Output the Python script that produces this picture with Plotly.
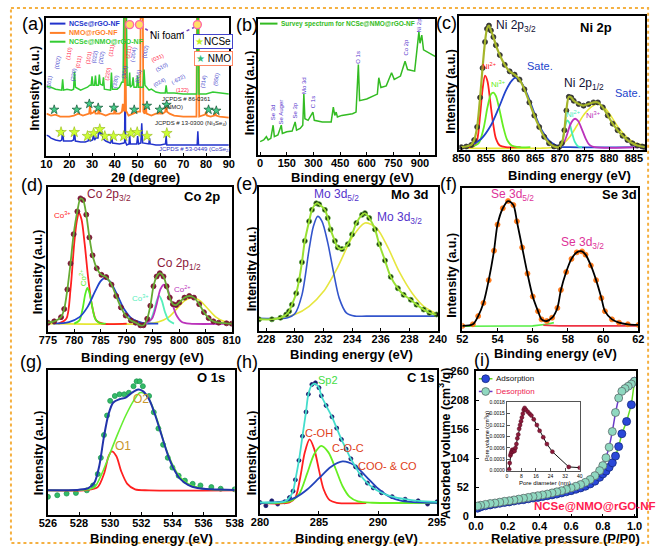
import plotly.graph_objects as go

W, H = 661, 554
FONT = "Liberation Sans, Arial, sans-serif"

# ------------------------------------------------------------------ data
# (a) XRD patterns (2theta, relative intensity)
xrd_blue_x = [10, 11, 12, 14, 16, 16.7, 17.1, 17.5, 19, 21, 21.9, 22.3, 22.7, 25, 27, 28.3, 28.6, 29.2, 30.2, 30.6,
              31.1, 31.6, 32.6, 33.1, 33.6, 34.1, 35, 36, 38, 38.3, 38.6, 39, 42, 44, 44.3, 44.5, 44.7, 45.2, 46.2,
              46.5, 46.8, 48, 49.6, 50, 50.4, 51.4, 51.8, 52.2, 54, 54.9, 55.2, 55.5, 58, 60, 62.2, 62.5, 62.8, 66,
              70, 74, 76.1, 76.4, 76.7, 80, 85, 90]
xrd_blue_y = [21, 20, 18, 16, 15, 16, 26, 15, 15, 15, 16, 25, 15, 14, 14, 15, 19, 15, 16, 21, 16, 18, 18, 29, 22,
              25, 17, 15, 13, 14, 21, 13, 12, 13, 14, 141, 14, 11, 12, 21, 12, 12, 12, 20, 12, 13, 33, 13, 12, 12,
              18, 12, 11, 11, 12, 20, 11, 11, 11, 11, 11, 25, 11, 11, 11, 11]
xrd_orange_x = [10, 12, 14, 16, 18, 20, 22, 24, 26, 28, 28.7, 29.1, 29.5, 30.5, 31, 31.5, 32.6, 33, 33.4, 34, 36,
                38, 39.6, 40, 40.4, 42, 43.1, 43.5, 43.9, 44.3, 44.6, 44.9, 46, 48, 50, 51.1, 51.3, 52.3, 52.5, 53.1,
                53.5, 53.9, 56, 58, 59.1, 59.5, 59.9, 61, 62.1, 62.5, 62.9, 64, 66, 70, 74, 75.8, 76.0, 76.8, 77.0,
                79.6, 80, 80.4, 82, 83.6, 84, 84.4, 86, 90]
xrd_orange_y = [43, 41, 42, 40, 40, 40, 41, 43, 41, 43, 43, 51, 43, 44, 46, 43, 43, 48, 43, 43, 41, 43, 43, 50, 43,
                43, 45, 53, 46, 46, 141, 46, 41, 43, 45, 45, 141, 141, 45, 43, 53, 43, 41, 43, 43, 48, 43, 43, 45,
                53, 45, 43, 41, 40, 40, 40, 141, 141, 40, 42, 45, 41, 40, 41, 45, 41, 40, 39]
xrd_green_x = [10, 12, 14, 16, 16.7, 17.1, 17.5, 19, 21, 21.9, 22.3, 22.7, 25, 26, 28, 29, 29.6, 30, 30.4, 31.1,
               31.5, 31.9, 32.8, 33.2, 33.6, 34.6, 35, 35.4, 37, 38.1, 38.5, 38.9, 41, 42, 43, 43.6, 43.9, 45.1,
               45.4, 46.2, 46.5, 46.8, 47.6, 48, 48.4, 49.6, 50, 50.4, 52.4, 52.8, 53.2, 55, 56, 58, 60, 62.1, 62.5,
               62.9, 66, 70, 74, 75.9, 76.2, 76.6, 76.9, 80, 83, 86, 90]
xrd_green_y = [71, 70, 68, 67, 67, 78, 67, 68, 67, 68, 86, 70, 67, 68, 70, 72, 72, 81, 72, 72, 82, 72, 72, 83, 73,
               72, 80, 68, 67, 67, 85, 68, 68, 70, 75, 75, 141, 141, 72, 72, 85, 70, 72, 80, 70, 70, 82, 70, 70, 88,
               72, 67, 68, 65, 64, 64, 72, 64, 64, 63, 63, 63, 141, 141, 63, 63, 65, 64, 63]
xrd_names = ["NCSe@rGO-NF", "NMO@rGO-NF", "NCSe@NMO@rGO-NF"]
nmo_star_x = [13.4, 23.3, 28.8, 32.7, 39.6, 48.5, 54.1, 59.7, 62.7, 81.1, 84.5]
nmo_star_y = [47, 47, 53, 49, 49, 47, 51, 47, 52, 47, 46]
ncse_star_x = [16.4, 22.2, 28.0, 30.7, 33.4, 35.6, 39.4, 43.9, 47.0, 49.8, 54.1, 62.8]
ncse_star_y = [24, 24, 20, 23, 27, 20, 20, 20, 23, 24, 20, 23]
nifoam_x = [46.5, 50.8, 76.2]
nifoam_y = [134, 134, 134]
hkl_text = ["(101)", "(002)", "(110)", "(220)", "(011)", "(101)", "(022)", "(202)", "(220)", "(111)", "(330)",
            "(304)", "(211)", "(-204)", "(006)", "(002)", "(031)", "(510)", "(024)", "(-622)", "(122)", "(314)",
            "(550)"]
hkl_x = [11.3, 14.7, 19.8, 22.0, 24.0, 28.4, 31.0, 34.0, 37.0, 38.5, 40.4, 44.0, 46.0, 48.0, 50.3, 53.3, 58.5,
         60.5, 59.7, 68.0, 69.5, 79.0, 84.6]
hkl_y = [75, 95, 105, 83, 96, 100, 101, 100, 83, 108, 76, 86, 106, 103, 81, 106, 100, 91, 75, 78, 67, 76, 78]
hkl_color = ["b", "b", "r", "b", "r", "r", "b", "b", "r", "r", "b", "b", "r", "b", "b", "b", "r", "b", "b", "b",
             "r", "b", "b"]
hkl_angle = [-80, -80, -80, -80, -80, -80, -80, -80, -80, -80, -80, -80, -80, -80, -80, -80, -25, -30, -30, -30,
             0, -80, -80]

# (b) XPS survey
sv_be = [0, 20, 35, 45, 60, 73, 80, 100, 119, 125, 150, 180, 197, 205, 225, 240, 246, 252, 270, 297, 305, 350,
         400, 412, 420, 428, 435, 460, 520, 540, 553, 560, 600, 640, 660, 668, 680, 710, 740, 755, 790, 816, 830,
         870, 894, 900, 910, 920, 950, 985]
sv_int = [40, 45, 55, 45, 50, 90, 55, 60, 90, 65, 70, 72, 100, 75, 80, 90, 185, 110, 105, 130, 105, 100, 100, 145,
          120, 130, 115, 120, 125, 130, 275, 165, 170, 180, 185, 235, 205, 210, 250, 230, 240, 285, 260, 255, 375,
          340, 365, 320, 310, 300]
sv_lbl = ["Se 3d", "Se Auger", "Se 3p", "Mo 3d", "C 1s", "O 1s", "Co 2p", "Ni 2p"]
sv_lbl_x = [73, 119, 197, 246, 297, 553, 816, 894]
sv_lbl_y = [130, 130, 135, 212, 160, 297, 327, 397]

# (c) Ni 2p
ni_be = [850.0, 851.0, 852.0, 852.6, 853.2, 853.8, 854.3, 854.8, 855.2, 855.6, 856.0, 856.5, 857.0, 857.8, 858.8,
         859.8, 860.8, 861.8, 862.8, 863.8, 864.8, 865.8, 866.8, 867.8, 868.8, 869.8, 870.4, 870.9, 871.3, 871.8,
         872.3, 872.8, 873.8, 874.8, 875.8, 876.8, 877.7, 878.7, 879.7, 880.7, 881.7, 882.7, 883.7, 884.7, 885.7,
         886.7, 887.2]
ni_int = [13, 15, 20, 35, 75, 165, 255, 335, 375, 385, 370, 350, 325, 295, 265, 245, 235, 220, 190, 150, 110, 75,
          45, 25, 15, 13, 25, 65, 125, 167, 165, 155, 145, 140, 145, 150, 150, 135, 110, 85, 65, 48, 35, 25, 18,
          15, 13]
ni_red_be = [851, 852.5, 853.2, 853.8, 854.3, 854.8, 855.3, 855.8, 856.4, 857.0, 857.8, 859, 862]
ni_red = [13, 16, 35, 110, 190, 232, 215, 160, 90, 40, 18, 13, 13]
ni_grn_be = [852, 853.5, 854.5, 855.3, 856.0, 856.5, 857.0, 857.7, 858.5, 859.3, 860.2, 861.5, 864]
ni_grn = [13, 25, 70, 135, 175, 180, 170, 130, 75, 35, 18, 13, 13]
ni_blu_be = [850, 852, 854, 856, 857.5, 859, 860, 860.9, 862, 863.5, 865, 866.5, 868, 870, 872, 887]
ni_blu = [14, 20, 38, 80, 130, 185, 212, 225, 215, 170, 110, 60, 30, 15, 13, 13]
ni_cyn_be = [869.5, 870.3, 870.8, 871.2, 871.5, 871.9, 872.4, 873, 873.7, 874.5]
ni_cyn = [13, 22, 55, 85, 95, 88, 60, 30, 15, 13]
ni_mag_be = [869.5, 870.5, 871.3, 872.0, 872.6, 873.1, 873.7, 874.4, 875.2, 876, 877, 887]
ni_mag = [13, 20, 45, 78, 95, 100, 93, 70, 40, 20, 13, 13]
ni_ylw_be = [850, 866, 869, 870.5, 872, 873.5, 875, 876.5, 877.7, 879, 880.5, 882, 883.5, 885, 887.2]
ni_ylw = [10, 10, 13, 22, 45, 80, 115, 138, 145, 135, 105, 70, 45, 28, 18]

# (d) Co 2p
co_be = [775.0, 776.2, 777.5, 778.1, 778.7, 779.3, 779.9, 780.6, 781.2, 781.7, 782.3, 782.9, 783.5, 784.3, 785.2,
         786.1, 787.1, 788.0, 788.9, 789.8, 790.8, 791.7, 792.6, 793.2, 793.9, 794.5, 795.1, 795.7, 796.3, 797.0,
         797.6, 798.2, 798.8, 799.4, 800.0, 801.0, 801.9, 802.8, 803.8, 804.7, 805.6, 806.5, 807.5, 809.0, 810.0]
co_int = [28, 32, 45, 70, 130, 210, 300, 370, 410, 405, 360, 290, 235, 195, 175, 168, 145, 110, 75, 50, 35, 28, 20,
          20, 40, 80, 140, 170, 180, 170, 140, 105, 85, 82, 90, 105, 110, 105, 85, 60, 42, 32, 28, 26, 25]
co_red_be = [777, 778.5, 779.3, 780.0, 780.5, 780.9, 781.4, 782.0, 782.7, 783.4, 784.2, 785.5, 790]
co_red = [25, 40, 130, 270, 340, 365, 345, 270, 160, 80, 35, 25, 25]
co_grn_be = [780, 781, 781.6, 782.1, 782.5, 782.9, 783.4, 784, 784.8, 786]
co_grn = [25, 35, 70, 115, 135, 120, 80, 40, 27, 25]
co_blu_be = [776, 779, 781, 782.5, 784, 785, 785.8, 786.8, 788, 789.5, 791, 793, 796]
co_blu = [25, 30, 45, 75, 125, 155, 165, 155, 120, 70, 40, 27, 25]
co_cyn_be = [793.5, 794.5, 795.3, 795.8, 796.2, 796.7, 797.3, 798, 799]
co_cyn = [25, 35, 70, 100, 110, 95, 60, 35, 25]
co_mag_be = [793.5, 794.8, 795.7, 796.4, 797.1, 797.8, 798.6, 799.5, 800.5, 802, 810]
co_mag = [25, 40, 85, 130, 145, 130, 90, 50, 30, 25, 25]
co_ylw_be = [775, 794, 796, 798, 799.5, 801, 802.5, 804, 805.5, 807, 808.5, 810]
co_ylw = [25, 25, 30, 45, 70, 95, 105, 95, 70, 45, 32, 27]

# (e) Mo 3d
mo_be = [227.5, 228.4, 229.0, 229.4, 229.6, 229.8, 230.1, 230.3, 230.5, 230.7, 231.0, 231.2, 231.5, 231.7, 232.1,
         232.3, 232.5, 232.8, 233.0, 233.3, 233.7, 234.0, 234.3, 234.7, 234.9, 235.2, 235.6, 235.9, 236.3, 236.7,
         237.2, 237.6, 238.1, 238.5, 239.0, 239.4, 239.9]
mo_int = [35, 35, 40, 50, 60, 80, 115, 155, 210, 275, 335, 370, 390, 387, 370, 345, 310, 275, 255, 250, 265, 295,
          330, 355, 360, 345, 310, 265, 215, 165, 130, 110, 95, 80, 65, 55, 50]
mo_blu_be = [227.5, 229.5, 230.0, 230.5, 231.0, 231.3, 231.6, 231.9, 232.3, 232.7, 233.1, 233.6, 234.2, 235, 240]
mo_blu = [38, 40, 52, 110, 250, 320, 350, 335, 270, 180, 100, 55, 45, 45, 45]
mo_ylw_be = [227.5, 229, 230, 231, 232, 233, 234, 234.9, 235.7, 236.5, 237.3, 238.2, 239, 240]
mo_ylw = [35, 40, 50, 75, 120, 195, 285, 330, 315, 255, 180, 115, 75, 50]

# (f) Se 3d
se_be = [52.0, 52.6, 52.9, 53.2, 53.5, 53.8, 54.0, 54.3, 54.6, 54.9, 55.1, 55.4, 55.7, 56.0, 56.3, 56.5, 56.8, 57.1,
         57.4, 57.6, 57.9, 58.2, 58.5, 58.8, 59.0, 59.3, 59.6, 59.9, 60.1, 60.5, 60.9, 61.4, 62.0]
se_int = [15, 20, 45, 85, 155, 245, 325, 375, 397, 385, 335, 255, 175, 105, 60, 35, 30, 40, 70, 125, 180, 220, 240,
          243, 233, 200, 155, 100, 60, 35, 25, 20, 18]
se_grn_be = [52, 56, 56.8, 57.2]
se_grn = [14, 15, 20, 25]
se_red_be = [56.6, 57.5, 62]
se_red = [17, 15, 15]

# (g) O 1s
o_be = [526.0, 526.6, 527.2, 527.8, 528.5, 528.9, 529.2, 529.4, 529.6, 529.8, 530.0, 530.3, 530.6, 530.9, 531.2,
        531.5, 531.7, 531.9, 532.1, 532.5, 532.8, 533.1, 533.4, 533.7, 534.0, 534.4, 534.8, 535.3, 535.8, 536.5,
        537.1, 538.0]
o_int = [55, 60, 65, 67, 75, 90, 125, 175, 245, 305, 350, 365, 370, 370, 375, 395, 410, 410, 395, 365, 315, 265,
         215, 175, 145, 120, 105, 95, 90, 85, 80, 78]
o_fit_be = [526, 528, 528.6, 529.0, 529.3, 529.6, 529.9, 530.2, 530.6, 531.0, 531.4, 531.8, 532.1, 532.5, 532.9,
            533.3, 533.7, 534.1, 534.5, 535.0, 535.6, 536.5, 538]
o_fit = [75, 77, 82, 100, 150, 240, 310, 345, 355, 360, 375, 385, 380, 355, 305, 245, 185, 140, 110, 92, 82, 78, 76]
o_red_be = [526, 528.5, 529.2, 529.6, 529.9, 530.1, 530.4, 530.7, 531.1, 531.6, 532.5, 538]
o_red = [75, 76, 85, 125, 180, 195, 180, 135, 95, 78, 75, 75]
o_grn_be = [526, 528.5, 529.0, 529.5, 530.0, 530.5, 531.0, 531.5, 531.9, 532.3, 532.7, 533.1, 533.5, 534.0, 534.5,
            535.0, 536, 538]
o_grn = [75, 77, 85, 130, 190, 250, 305, 350, 375, 370, 335, 280, 215, 155, 115, 95, 80, 76]

# (h) C 1s
c_be = [280.0, 280.5, 281.0, 281.5, 282.1, 282.5, 282.8, 283.0, 283.3, 283.6, 283.9, 284.1, 284.4, 284.7, 285.0,
        285.2, 285.6, 286.1, 286.5, 286.9, 287.3, 287.7, 288.1, 288.5, 289.1, 289.6, 290.3, 291.2, 292.3, 293.4,
        294.2, 295.0]
c_int = [35, 25, 40, 30, 37, 50, 70, 105, 165, 240, 315, 370, 400, 405, 390, 365, 335, 300, 265, 230, 200, 170,
         145, 120, 95, 80, 65, 53, 45, 40, 30, 37]
c_fit_be = [280, 281, 282.1, 282.5, 282.8, 283.0, 283.3, 283.6, 283.9, 284.1, 284.4, 284.7, 285.0, 285.2, 285.6,
            286.1, 286.5, 286.9, 287.3, 287.7, 288.1, 288.5, 289.1, 289.6, 290.3, 291.2, 292.3, 293.4, 295.0]
c_fit = [35, 35, 38, 50, 70, 105, 165, 240, 315, 370, 398, 402, 390, 365, 335, 300, 265, 230, 200, 170, 145, 120, 95,
         80, 65, 53, 45, 40, 37]
c_red_be = [280, 282.5, 283.0, 283.4, 283.8, 284.2, 284.6, 285.0, 285.4, 285.9, 286.5, 289]
c_red = [33, 35, 50, 110, 190, 230, 200, 135, 75, 42, 34, 33]
c_grn_be = [280, 282.5, 283.3, 284.0, 284.6, 285.2, 285.8, 286.4, 287.0, 287.6, 288.3, 289.5, 295]
c_grn = [33, 38, 60, 125, 185, 210, 190, 140, 85, 52, 38, 34, 34]
c_blu_be = [280, 282, 283, 284, 285, 286, 287, 288, 289, 290, 291, 292, 293.5, 295]
c_blu = [33, 38, 50, 75, 110, 145, 162, 150, 115, 78, 52, 40, 35, 34]

# (i) N2 isotherm
p_ads = [0.01, 0.03, 0.06, 0.09, 0.12, 0.15, 0.18, 0.21, 0.24, 0.27, 0.30, 0.33, 0.36, 0.39, 0.42, 0.45, 0.48,
         0.51, 0.54, 0.57, 0.60, 0.63, 0.66, 0.69, 0.72, 0.75, 0.78, 0.80, 0.82, 0.84, 0.86, 0.88, 0.90, 0.92,
         0.95, 0.98, 1.00]
v_ads = [14.7, 17, 19, 20.5, 22, 23.5, 25, 26, 27.5, 29, 30, 31.5, 33, 34, 35.5, 37, 38.5, 40, 42, 44, 46, 48.5, 51,
         54, 58, 63, 70, 76, 81, 88, 96, 108, 125, 148, 170, 200, 242]
p_des = [1.00, 0.98, 0.96, 0.94, 0.92, 0.90, 0.88, 0.86, 0.84, 0.82, 0.80, 0.78, 0.75, 0.72, 0.69, 0.66, 0.63,
         0.60, 0.57, 0.54, 0.51, 0.48, 0.45, 0.42, 0.39, 0.36, 0.33, 0.30, 0.27, 0.24, 0.21, 0.18, 0.15, 0.12,
         0.09, 0.06, 0.03, 0.01]
v_des = [242, 237, 233, 229, 224, 212, 186, 152, 124, 105, 91, 82, 73, 66, 61, 57, 54, 51, 48.5, 46, 44, 42, 40,
         38.5, 37, 35.5, 34, 32.5, 31, 29.5, 28, 27, 25.5, 24, 23, 21.5, 20, 18.5]
pore_d = [1.3, 1.6, 2.0, 2.3, 2.6, 3.0, 3.4, 3.8, 4.3, 4.8, 5.3, 5.8, 6.3, 6.8, 7.3, 7.8, 8.3, 8.8, 9.3, 9.8, 10.5,
          11.5, 12.5, 13.5, 14.8, 16.5, 18, 20, 22, 25, 34, 40]
pore_v = [0.00004, 0.0002, 0.0004, 0.00045, 0.0005, 0.00055, 0.0005, 0.00055, 0.00052, 0.0006, 0.0007, 0.00085,
          0.00095, 0.0011, 0.0012, 0.0013, 0.0014, 0.0015, 0.0016, 0.00165, 0.0016, 0.00155, 0.0015, 0.00145,
          0.00135, 0.0012, 0.00105, 0.00088, 0.0007, 0.0005, 0.0001, 0.00008]

# ------------------------------------------------------------------ helpers
fig = go.Figure()
layout = {}
annotations = []
shapes = []


def PX(px):
    return px / W


def PY(py):
    return 1 - py / H


def add_axes(n, x0, x1, y0, y1, xr, yr, xticks=None, yticks=None, xfmt=None, tick_size=11, lw=1.5,
             lcolor="black", show_y=False, yfmt=None, standoff=-3, ystandoff=0):
    xs = "xaxis" if n == 1 else f"xaxis{n}"
    ys = "yaxis" if n == 1 else f"yaxis{n}"
    xa = "x" if n == 1 else f"x{n}"
    ya = "y" if n == 1 else f"y{n}"
    tf = dict(family=FONT, size=tick_size, color="black", weight="bold")
    layout[xs] = dict(domain=[PX(x0), PX(x1)], range=xr, anchor=ya, showline=True, mirror=True,
                      linecolor=lcolor, linewidth=lw, showgrid=False, zeroline=False, ticks="inside",
                      ticklen=3, tickcolor=lcolor, tickvals=xticks, tickfont=tf, fixedrange=True,
                      ticklabelstandoff=standoff)
    if xfmt:
        layout[xs]["tickformat"] = xfmt
    layout[ys] = dict(domain=[PY(y1), PY(y0)], range=yr, anchor=xa, showline=True, mirror=True,
                      linecolor=lcolor, linewidth=lw, showgrid=False, zeroline=False, fixedrange=True)
    if show_y:
        layout[ys].update(ticks="inside", ticklen=3, tickcolor=lcolor, tickvals=yticks, tickfont=tf,
                          showticklabels=True, ticklabelstandoff=ystandoff)
        if yfmt:
            layout[ys]["tickformat"] = yfmt
    else:
        layout[ys].update(ticks="", showticklabels=False)
    return xa, ya


def line(ax, x, y, color, width=1.6, spline=True, name=""):
    xa, ya = ax
    fig.add_trace(go.Scatter(x=x, y=y, mode="lines", xaxis=xa, yaxis=ya, name=name, showlegend=False,
                             line=dict(color=color, width=width, shape="spline" if spline else "linear",
                                       smoothing=0.8), hoverinfo="skip"))


def dots(ax, x, y, color, size=5, edge=None):
    xa, ya = ax
    fig.add_trace(go.Scatter(x=x, y=y, mode="markers", xaxis=xa, yaxis=ya, showlegend=False,
                             marker=dict(color=color, size=size,
                                         line=dict(color=edge or color, width=0.8)), hoverinfo="skip"))


def txt(text, x, y, size=12, color="black", bold=False, angle=0, xanchor="center", yanchor="middle",
        xref="paper", yref="paper", **kw):
    if bold:
        text = f"<b>{text}</b>"
    if xref == "paper":
        x = PX(x)
    if yref == "paper":
        y = PY(y)
    d = dict(text=text, x=x, y=y, xref=xref, yref=yref, showarrow=False, textangle=angle,
             font=dict(family=FONT, size=size, color=color), xanchor=xanchor, yanchor=yanchor)
    d.update(kw)
    annotations.append(d)


def pline(x0, y0, x1, y1, color, width=1.5, dash=None):
    shapes.append(dict(type="line", xref="paper", yref="paper", x0=PX(x0), y0=PY(y0), x1=PX(x1), y1=PY(y1),
                       line=dict(color=color, width=width, dash=dash)))


# ------------------------------------------------------------------ (a) XRD
axA = add_axes(1, 38.5, 226, 12, 153, [10, 90], [0, 141], xticks=list(range(10, 91, 10)))
c_blue, c_orange, c_green = "#2233cc", "#ff7f27", "#33cc33"
line(axA, xrd_blue_x, xrd_blue_y, c_blue, 1.5, spline=False, name=xrd_names[0])
line(axA, xrd_orange_x, xrd_orange_y, c_orange, 1.8, spline=False, name=xrd_names[1])
line(axA, xrd_green_x, xrd_green_y, c_green, 1.5, spline=False, name=xrd_names[2])
fig.add_trace(go.Scatter(x=nmo_star_x, y=nmo_star_y, mode="markers", xaxis="x", yaxis="y", showlegend=False,
                         marker=dict(symbol="star", size=7, color="#44cc88", line=dict(color="#115533", width=0.7))))
fig.add_trace(go.Scatter(x=ncse_star_x, y=ncse_star_y, mode="markers", xaxis="x", yaxis="y", showlegend=False,
                         marker=dict(symbol="star", size=8, color="#ccff33", line=dict(color="#88aa00", width=0.5))))
fig.add_trace(go.Scatter(x=nifoam_x, y=nifoam_y, mode="markers", xaxis="x", yaxis="y", showlegend=False,
                         marker=dict(symbol="circle", size=8, color="#ffe066", line=dict(color="#ff66aa", width=1.3))))
for t, x, y, c, a in zip(hkl_text, hkl_x, hkl_y, hkl_color, hkl_angle):
    txt(t, x, y, size=5.5, color="#ff2244" if c == "r" else "#4646cc", angle=a, xref="x", yref="y")
# legend (a)
for (py, col, nm) in [(18, c_blue, xrd_names[0]), (27.5, c_orange, xrd_names[1]), (36.5, c_green, xrd_names[2])]:
    pline(42, py, 58, py, col, 2)
    txt(nm, 60, py, size=7, color=col, bold=True, xanchor="left")
txt("Ni foam", 162, 30, size=10, color="black")
pline(148, 28, 138, 22, "#7040c0", 1.5, "dot")
pline(177, 28, 190, 22, "#7040c0", 1.5, "dot")
txt("<span style='color:#bbee22'>★</span>NCSe", 210, 36.5, size=10, bordercolor="#4444cc", borderwidth=1,
    bgcolor="white", borderpad=1)
txt("<span style='color:#33bb77'>★</span> NMO", 210, 53.5, size=10, bordercolor="#ff8866", borderwidth=1,
    bgcolor="white", borderpad=1)
txt("JCPDS # 86-0361", 182, 95, size=6, color="#222222")
txt("(NMO)", 170, 103, size=6, color="#222222")
txt("JCPDS # 13-0300 (Ni<sub>3</sub>Se<sub>4</sub>)", 187, 120, size=6, color="#222222")
txt("JCPDS # 53-0449 (CoSe<sub>2</sub>)", 191, 147, size=6, color="#3030c0")

# ------------------------------------------------------------------ (b) survey
axB = add_axes(2, 256, 438, 13, 152, [-12, 985], [0, 415], xticks=[0, 150, 300, 450, 600, 750, 900])
line(axB, sv_be, sv_int, "#33bb22", 1.5, spline=False)
for t, x, y in zip(sv_lbl, sv_lbl_x, sv_lbl_y):
    txt(t, x, y, size=6, color="#5533cc", angle=-90, xref="x2", yref="y2", yanchor="middle")
pline(258, 18, 276, 18, "#33bb22", 2)
txt("Survey spectrum for NCSe@NMO@rGO-NF", 278, 18, size=6.5, color="#33bb22", bold=True, xanchor="left")

# ------------------------------------------------------------------ (c) Ni 2p
axC = add_axes(3, 463, 654, 10, 147, [849.6, 887.3], [5, 415], xticks=list(range(850, 886, 5)))
line(axC, ni_ylw_be, ni_ylw, "#e6e633", 1.6)
line(axC, ni_red_be, ni_red, "#ff2020", 1.8)
line(axC, ni_grn_be, ni_grn, "#66ee22", 1.8)
line(axC, ni_blu_be, ni_blu, "#2244cc", 1.8)
line(axC, ni_cyn_be, ni_cyn, "#44eebb", 1.8)
line(axC, ni_mag_be, ni_mag, "#bb33bb", 1.8)
dots(axC, ni_be, ni_int, "#333333", 5)
line(axC, ni_be, ni_int, "#a5b52a", 2.2)
txt("Ni 2p<sub>3/2</sub>", 499, 20, size=12, color="#111133", xanchor="left")
txt("Ni 2p", 603, 22, size=13, bold=True)
txt("Ni<sup>2+</sup>", 853.8, 262, size=8, color="#ff2020", xref="x3", yref="y3", xanchor="left")
txt("Ni<sup>3+</sup>", 855.6, 205, size=8, color="#66ee22", xref="x3", yref="y3", xanchor="left")
txt("Sate.", 863, 262, size=11, color="#2244cc", xref="x3", yref="y3", xanchor="left")
txt("Ni 2p<sub>1/2</sub>", 874.8, 205, size=12, color="#111133", xref="x3", yref="y3")
txt("Sate.", 880.8, 178, size=11, color="#2244cc", xref="x3", yref="y3", xanchor="left")
txt("Ni<sup>2+</sup>", 870.8, 115, size=8, color="#44eebb", xref="x3", yref="y3", xanchor="left")
txt("Ni<sup>3+</sup>", 874.8, 112, size=8, color="#bb33bb", xref="x3", yref="y3", xanchor="left")

# ------------------------------------------------------------------ (d) Co 2p
axD = add_axes(4, 40, 229, 185, 333, [775, 810], [0, 445], xticks=list(range(775, 811, 5)))
line(axD, co_ylw_be, co_ylw, "#e6e633", 1.6)
line(axD, co_red_be, co_red, "#ff2020", 1.8)
line(axD, co_grn_be, co_grn, "#55ee22", 1.8)
line(axD, co_blu_be, co_blu, "#2244cc", 1.8)
line(axD, co_cyn_be, co_cyn, "#55eebb", 1.8)
line(axD, co_mag_be, co_mag, "#bb33bb", 1.8)
dots(axD, co_be, co_int, "#7b1535", 5)
line(axD, co_be, co_int, "#66aa33", 1.8)
txt("Co 2p<sub>3/2</sub>", 782, 420, size=12, color="#8b1a3a", xref="x4", yref="y4", xanchor="left")
txt("Co 2p", 198, 195, size=13, bold=True)
txt("Co<sup>3+</sup>", 777.8, 360, size=8, color="#ff2020", xref="x4", yref="y4")
txt("Co<sup>2+</sup>", 781.7, 165, size=8, color="#55ee22", angle=-90, xref="x4", yref="y4")
txt("Co 2p<sub>1/2</sub>", 800, 207, size=12, color="#8b1a3a", xref="x4", yref="y4")
txt("Co<sup>3+</sup>", 792.6, 105, size=8, color="#55eebb", xref="x4", yref="y4")
txt("Co<sup>2+</sup>", 800.6, 132, size=8, color="#bb33bb", xref="x4", yref="y4")

# ------------------------------------------------------------------ (e) Mo 3d
axE = add_axes(5, 257, 441, 185, 332, [227.5, 240], [0, 440], xticks=list(range(228, 241, 2)))
line(axE, mo_ylw_be, mo_ylw, "#e6e640", 1.6)
line(axE, mo_blu_be, mo_blu, "#3355cc", 1.6)
dots(axE, mo_be, mo_int, "#111111", 5, edge="#55aa33")
line(axE, mo_be, mo_int, "#99e033", 2)
txt("Mo 3d<sub>5/2</sub>", 232.9, 415, size=12, color="#5533cc", xref="x5", yref="y5")
txt("Mo 3d<sub>3/2</sub>", 237.3, 345, size=12, color="#5533cc", xref="x5", yref="y5")
txt("Mo 3d", 412, 193, size=13, bold=True)

# ------------------------------------------------------------------ (f) Se 3d
axF = add_axes(6, 466, 647, 186, 332, [52, 62], [0, 437], xticks=list(range(52, 63, 2)))
line(axF, se_grn_be, se_grn, "#55ee44", 1.6, spline=False)
line(axF, se_red_be, se_red, "#ee3344", 1.6, spline=False)
dots(axF, se_be, se_int, "#ff7a1a", 5)
line(axF, se_be, se_int, "#000000", 1.8)
txt("Se 3d<sub>5/2</sub>", 54.85, 415, size=12, color="#dd3399", xref="x6", yref="y6")
txt("Se 3d<sub>3/2</sub>", 58.8, 270, size=12, color="#dd3399", xref="x6", yref="y6")
txt("Se 3d", 628, 193, size=13, bold=True)

# ------------------------------------------------------------------ (g) O 1s
axG = add_axes(7, 40, 232, 372, 520, [526, 538], [0, 445], xticks=list(range(526, 539, 2)))
dots(axG, o_be, o_int, "#33bb66", 5, edge="#229955")
line(axG, o_red_be, o_red, "#ff2020", 1.8)
line(axG, o_grn_be, o_grn, "#66ee33", 1.6)
line(axG, o_fit_be, o_fit, "#2233aa", 2)
txt("O1", 530.8, 212, size=12, color="#c8962a", xref="x7", yref="y7")
txt("O2", 532.0, 355, size=12, color="#c8962a", xref="x7", yref="y7")
txt("O 1s", 208, 380, size=13, bold=True)

# ------------------------------------------------------------------ (h) C 1s
axH = add_axes(8, 258, 440, 372, 519, [280, 295], [0, 445], xticks=[280, 285, 290, 295])
dots(axH, c_be, c_int, "#1c1c6e", 4)
line(axH, c_red_be, c_red, "#ff2020", 1.8)
line(axH, c_grn_be, c_grn, "#66ee22", 1.8)
line(axH, c_blu_be, c_blu, "#2244bb", 1.8)
line(axH, c_fit_be, c_fit, "#44ddcc", 1.8)
txt("Sp2", 285.8, 415, size=11, color="#44dd44", xref="x8", yref="y8")
txt("C-OH", 285.0, 250, size=11, color="#e04020", xref="x8", yref="y8")
txt("C-O-C", 287.5, 205, size=11, color="#e04020", xref="x8", yref="y8")
txt("COO- &amp; CO", 290.8, 147, size=11, color="#e04020", xref="x8", yref="y8")
txt("C 1s", 423, 380, size=13, bold=True)

# ------------------------------------------------------------------ (i) BET
axI = add_axes(9, 480, 645, 373.3, 521.7, [0, 1.012], [0, 260], xticks=[0, 0.2, 0.4, 0.6, 0.8, 1.0],
               yticks=[0, 52, 104, 156, 208, 260], xfmt=".1f", show_y=True, standoff=-1, ystandoff=3)
fig.add_trace(go.Scatter(x=p_ads, y=v_ads, mode="lines+markers", xaxis="x9", yaxis="y9", showlegend=False,
                         line=dict(color="#66dd22", width=1.5),
                         marker=dict(size=8, color="#2a48d8", line=dict(color="#142a80", width=0.8))))
fig.add_trace(go.Scatter(x=p_des, y=v_des, mode="lines+markers", xaxis="x9", yaxis="y9", showlegend=False,
                         line=dict(color="#6a3cc8", width=1.5),
                         marker=dict(size=8, color="#8fd8c0", line=dict(color="#5a6a6a", width=0.8))))
pline(483, 381, 497, 381, "#66dd22", 1.5)
shapes.append(dict(type="circle", xref="paper", yref="paper", x0=PX(486), x1=PX(494), y0=PY(385), y1=PY(377),
                   fillcolor="#2a48d8", line=dict(color="#142a80", width=0.8)))
txt("Adsorption", 499, 381, size=8, color="#111111", xanchor="left")
pline(483, 394, 497, 394, "#6a3cc8", 1.5)
shapes.append(dict(type="circle", xref="paper", yref="paper", x0=PX(486), x1=PX(494), y0=PY(398), y1=PY(390),
                   fillcolor="#8fd8c0", line=dict(color="#5a6a6a", width=0.8)))
txt("Desorption", 499, 394, size=8, color="#ee2050", xanchor="left")
txt("NCSe@NMO@rGO-NF", 602, 511, size=11.5, color="#ff2050", bold=True)

# inset
axJ = add_axes(10, 511.7, 586.7, 405, 475, [0, 40], [0, 0.0018], xticks=[0, 8, 16, 24, 32, 40],
               yticks=[0, 0.0003, 0.0006, 0.0009, 0.0012, 0.0015, 0.0018], show_y=True, yfmt=".4f",
               tick_size=5, lw=1, lcolor="#555555", standoff=0)
layout["xaxis10"]["tickfont"]["weight"] = "normal"
layout["yaxis10"]["tickfont"]["weight"] = "normal"
fig.add_trace(go.Scatter(x=pore_d, y=pore_v, mode="lines+markers", xaxis="x10", yaxis="y10", showlegend=False,
                         line=dict(color="#111111", width=1),
                         marker=dict(size=4, color="#8b1a3a", line=dict(color="#550a20", width=0.5))))
txt("Pore volume (cm<sup>3</sup>/g)", 492, 440, size=5.5, angle=-90)
txt("Pore diameter (nm)", 551, 488, size=6)

# ------------------------------------------------------------------ axis titles & panel letters
for (t, x, y) in [("2θ (degree)", 140, 175), ("Binding energy (eV)", 353, 175), ("Binding energy (eV)", 576, 173),
                  ("Binding energy (eV)", 137, 359), ("Binding energy (eV)", 352, 356),
                  ("Binding energy (eV)", 562, 355), ("Binding energy (eV)", 147, 544),
                  ("Binding energy (eV)", 357, 544), ("Relative pressure (P/P0)", 572, 544)]:
    txt(t, x, y, size=13, bold=True)
for (x, y) in [(27, 84), (248, 89), (455, 87), (30, 272), (250, 269), (455, 275), (31, 457), (250, 457)]:
    txt("Intensity (a.u.)", x, y, size=12.5, bold=True, angle=-90)
txt("Adsorbed volume (cm<sup>3</sup>/g)", 448, 447, size=12.5, bold=True, angle=-90)
for (t, x, y) in [("(a)", 25, 18), ("(b)", 245, 19), ("(c)", 450, 17), ("(d)", 24, 183), ("(e)", 245, 182),
                  ("(f)", 452, 182), ("(g)", 23, 364), ("(h)", 245, 364), ("(i)", 486, 362)]:
    txt(t, x, y, size=18)

# border
shapes.append(dict(type="rect", xref="paper", yref="paper", x0=PX(2), y0=PY(2), x1=PX(657), y1=PY(549),
                   line=dict(color="#f5b041", width=2, dash="dot")))

fig.update_layout(width=W, height=H, margin=dict(l=0, r=0, t=0, b=0), paper_bgcolor="white",
                  plot_bgcolor="white", showlegend=False, annotations=annotations, shapes=shapes,
                  font=dict(family=FONT), **layout)
fig.write_html("out.html")
